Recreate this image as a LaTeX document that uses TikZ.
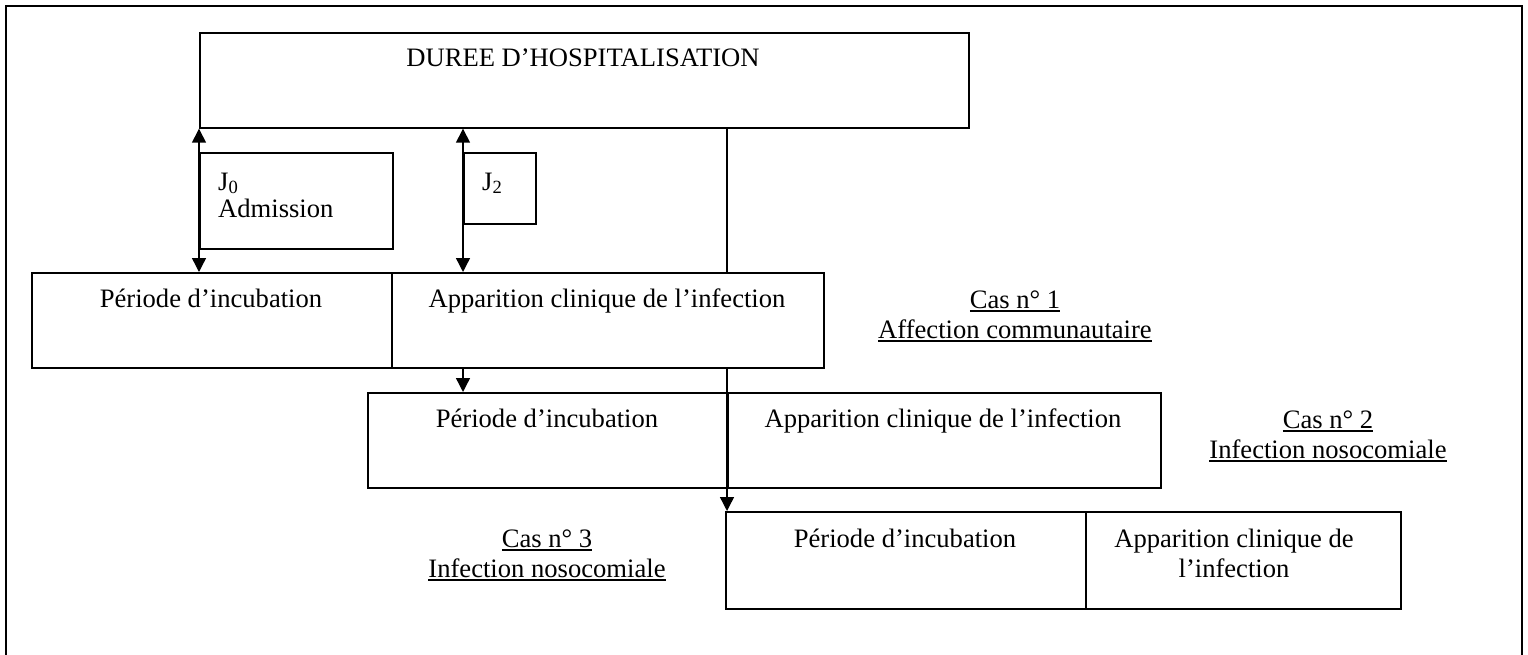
\documentclass[tikz,border=0pt]{standalone}
\usepackage{fontspec}
\setmainfont{Liberation Serif}
\usetikzlibrary{arrows.meta}
\newcommand{\ulx}[1]{\setbox0\hbox{#1}\leavevmode\rlap{\rule[-3.6pt]{\wd0}{1.5pt}}\box0}
\begin{document}
\begin{tikzpicture}[x=1pt,y=-1pt,
  cellbox/.style={draw, line width=1.7pt, inner sep=0pt, anchor=north west},
  lbl/.style={anchor=base, inner sep=0pt, font=\fontsize{26.6}{30}\selectfont, align=center},
  lbll/.style={anchor=base west, inner sep=0pt, font=\fontsize{26.6}{28}\selectfont, align=left},
  conn/.style={line width=1.4pt},
  arr/.style={conn, -{Triangle[width=14pt,length=14pt]}},
  darr/.style={conn, {Triangle[width=14pt,length=14pt]}-{Triangle[width=14pt,length=14pt]}},
]
\useasboundingbox (0,0) rectangle (1528,655);
% outer frame (bottom edge not visible)
\draw[line width=1.8pt] (6,655) -- (6,6) -- (1522,6) -- (1522,655);

% top box
\node[cellbox, minimum width=769pt, minimum height=95pt] (duree) at (199,32) {};
\node[lbl] (dureet) at (583,67) {DUREE D’HOSPITALISATION};

% J boxes
\node[cellbox, minimum width=193pt, minimum height=96pt] (j0) at (199,152) {};
\node[lbll] (j0t) at (218,218) {J\textsubscript{0}\\Admission};
\node[cellbox, minimum width=72pt, minimum height=71pt] (j2) at (463,152) {};
\node[lbll] (j2t) at (482,190) {J\textsubscript{2}};

% row 1
\node[cellbox, minimum width=360pt, minimum height=95pt] (r1a) at (31,272) {};
\node[cellbox, minimum width=432pt, minimum height=95pt] (r1b) at (391,272) {};
\node[lbl] (r1at) at (211,307) {Période d’incubation};
\node[lbl] (r1bt) at (607,307) {Apparition clinique de l’infection};
\node[lbl] (cas1) at (1015,338) {\ulx{Cas n° 1}\\\ulx{Affection communautaire}};

% row 2
\node[cellbox, minimum width=360pt, minimum height=95pt] (r2a) at (367,392) {};
\node[cellbox, minimum width=433pt, minimum height=95pt] (r2b) at (727,392) {};
\node[lbl] (r2at) at (547,427) {Période d’incubation};
\node[lbl] (r2bt) at (943,427) {Apparition clinique de l’infection};
\node[lbl] (cas2) at (1328,458) {\ulx{Cas n° 2}\\\ulx{Infection nosocomiale}};

% row 3
\node[cellbox, minimum width=360pt, minimum height=97pt] (r3a) at (725,511) {};
\node[cellbox, minimum width=315pt, minimum height=97pt] (r3b) at (1085,511) {};
\node[lbl] (r3at) at (905,547) {Période d’incubation};
\node[lbl] (r3bt) at (1234,577) {Apparition clinique de\\l’infection};
\node[lbl] (cas3) at (547,577) {\ulx{Cas n° 3}\\\ulx{Infection nosocomiale}};

% connectors
\draw[darr] (j0.west |- duree.south) -- (j0.west |- r1a.north);
\draw[darr] (j2.west |- duree.south) -- (j2.west |- r1b.north);
\draw[conn] (r2b.west |- duree.south) -- (r2b.west |- r1b.north);
\draw[arr] (j2.west |- r1b.south) -- (j2.west |- r2a.north);
\draw[arr] (r2b.west |- r1b.south) -- (r2b.west |- r3a.north);
\end{tikzpicture}
\end{document}
